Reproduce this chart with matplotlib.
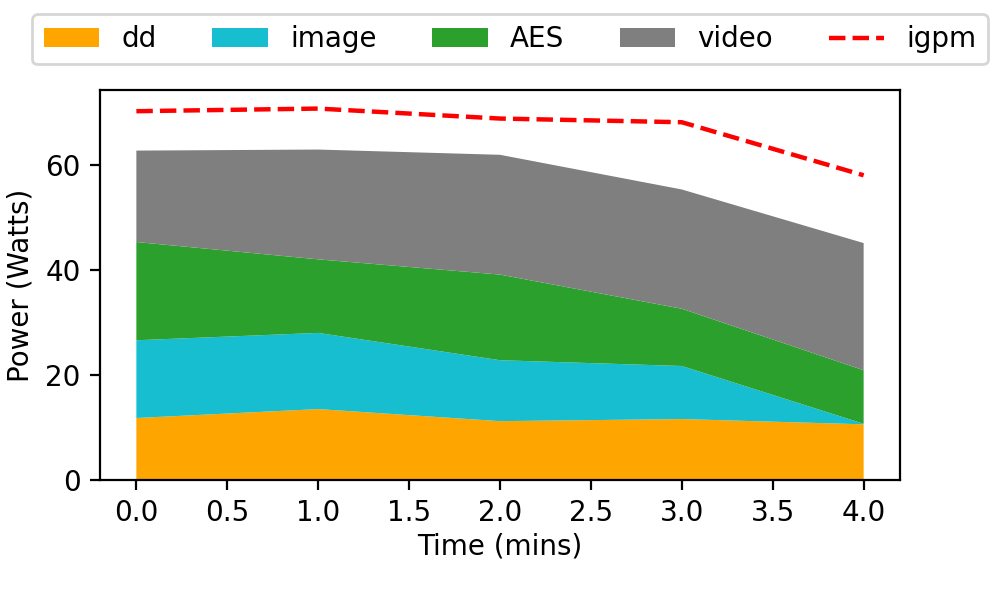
import matplotlib
matplotlib.use("Agg")
import matplotlib.pyplot as plt

# values
time_mins = [0, 1, 2, 3, 4]
dd = [11.8, 13.5, 11.2, 11.6, 10.6]
image = [14.8, 14.5, 11.6, 10.1, 0.1]
aes = [18.7, 14.0, 16.3, 10.9, 10.2]
video = [17.4, 20.9, 22.8, 22.7, 24.2]
igpm = [70.2, 70.7, 68.8, 68.1, 58.0]

labels = ["dd", "image", "AES", "video"]
colors = ["orange", "tab:cyan", "tab:green", "tab:gray"]
y_ticks = [0, 20, 40, 60]

plt.rcParams["font.size"] = 10

fig, ax = plt.subplots(figsize=(5, 3), dpi=200)
fig.subplots_adjust(left=0.1, right=0.9, bottom=0.2, top=0.85)

ax.stackplot(time_mins, dd, image, aes, video, labels=labels, colors=colors)
ax.plot(time_mins, igpm, "--", color="red", lw=1.6, label="igpm")

ax.set_yticks(y_ticks)
ax.set_xlabel("Time (mins)", labelpad=2)
ax.set_ylabel("Power (Watts)")
ax.legend(loc="lower center", bbox_to_anchor=(0.5125, 1.03), ncol=5)

fig.savefig("out.png", dpi=200)
